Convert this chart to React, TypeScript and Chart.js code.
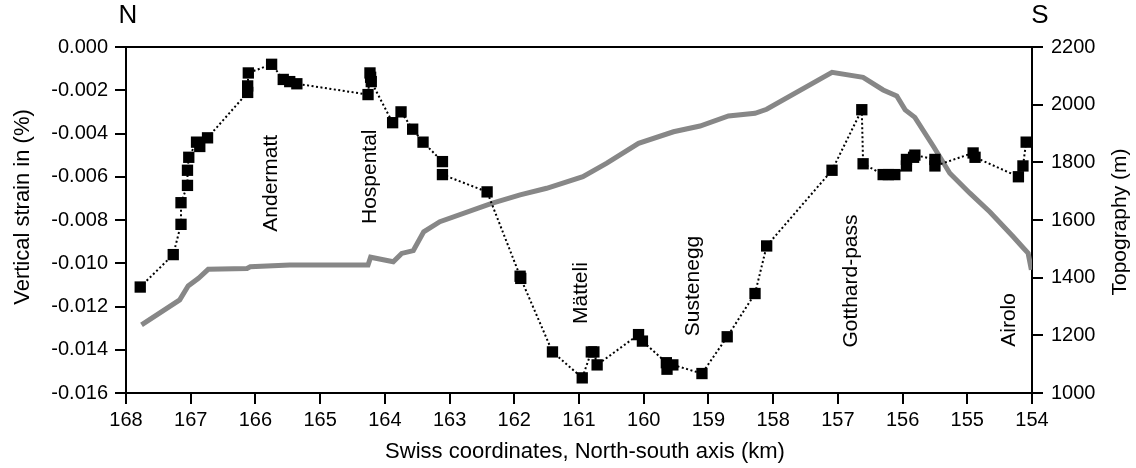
import React, { useEffect, useRef } from "react";
import { Chart, registerables } from "chart.js";

Chart.register(...registerables);

// Strain survey points (km along N-S axis, vertical strain in %)
const strainKm: number[] = [
  167.78, 167.27, 167.15, 167.15, 167.05, 167.05, 167.03, 166.91, 166.86, 166.74,
  166.12, 166.12, 166.11, 165.75, 165.57, 165.47, 165.36, 164.26, 164.23, 164.22,
  164.21, 163.88, 163.75, 163.57, 163.41, 163.11, 163.11, 162.42, 161.91, 161.9,
  161.41, 160.95, 160.81, 160.77, 160.72, 160.08, 160.02, 159.65, 159.64, 159.55,
  159.1, 158.71, 158.28, 158.1, 157.09, 156.63, 156.61, 156.3, 156.22, 156.12,
  155.94, 155.94, 155.83, 155.81, 155.5, 155.5, 154.91, 154.88, 154.21, 154.14,
  154.09,
];
const strainVal: number[] = [
  -0.0111, -0.0096, -0.0082, -0.0072, -0.0064, -0.0057, -0.0051, -0.0044, -0.0046, -0.0042,
  -0.0021, -0.0018, -0.0012, -0.0008, -0.0015, -0.0016, -0.0017, -0.0022, -0.0012, -0.0014,
  -0.0016, -0.0035, -0.003, -0.0038, -0.0044, -0.0053, -0.0059, -0.0067, -0.0106, -0.0107,
  -0.0141, -0.0153, -0.0141, -0.0141, -0.0147, -0.0133, -0.0136, -0.0146, -0.0149, -0.0147,
  -0.0151, -0.0134, -0.0114, -0.0092, -0.0057, -0.0029, -0.0054, -0.0059, -0.0059, -0.0059,
  -0.0055, -0.0052, -0.0051, -0.005, -0.0052, -0.0055, -0.0049, -0.0051, -0.006, -0.0055,
  -0.0044,
];

// Topography profile (km, metres)
const topoKm: number[] = [
  167.76, 167.17, 167.04, 166.88, 166.73, 166.13, 166.08, 165.47, 164.26, 164.22,
  163.87, 163.74, 163.56, 163.4, 163.15, 162.35, 161.91, 161.5, 160.94, 160.57,
  160.08, 159.54, 159.13, 158.69, 158.28, 158.1, 157.09, 156.61, 156.3, 156.09,
  155.96, 155.81, 155.52, 155.27, 154.96, 154.65, 154.29, 154.13, 154.06, 154.01,
];
const topoVal: number[] = [
  1236, 1323, 1371, 1398, 1429, 1432, 1438, 1444, 1444, 1471,
  1455, 1484, 1494, 1559, 1594, 1658, 1687, 1710, 1750, 1797,
  1866, 1906, 1926, 1961, 1970, 1984, 2112, 2095, 2051, 2030,
  1982, 1956, 1854, 1762, 1693, 1628, 1542, 1502, 1485, 1427,
];

// Place names along the profile (km, strain level of label centre)
const placeNames: string[] = ["Andermatt", "Hospental", "Mätteli", "Sustenegg", "Gotthard-pass", "Airolo"];
const placeKm: number[] = [165.76, 164.23, 160.97, 159.24, 156.8, 154.35];
const placeLevel: number[] = [-0.0063, -0.006, -0.01138, -0.01105, -0.01082, -0.01262];

const xTitle = "Swiss coordinates, North-south axis (km)";
const yTitle = "Vertical strain in (%)";
const y2Title = "Topography (m)";

const FONT = "'Liberation Sans', Arial, Helvetica, sans-serif";

export default function App() {
  const ref = useRef<HTMLCanvasElement | null>(null);

  useEffect(() => {
    if (!ref.current) return;
    Chart.defaults.font.family = FONT;
    Chart.defaults.color = "#000";

    const overlay = {
      id: "overlay",
      afterDraw(chart: any) {
        const { ctx, chartArea, scales } = chart;
        ctx.save();
        // top frame line
        ctx.strokeStyle = "#000";
        ctx.lineWidth = 2;
        ctx.beginPath();
        ctx.moveTo(chartArea.left - 1, chartArea.top);
        ctx.lineTo(chartArea.right + 1, chartArea.top);
        ctx.stroke();

        ctx.fillStyle = "#000";
        ctx.textAlign = "center";
        ctx.textBaseline = "middle";

        // place names, rotated
        ctx.font = `21px ${FONT}`;
        placeNames.forEach((name, i) => {
          const px = scales.x.getPixelForValue(placeKm[i]);
          const py = scales.y.getPixelForValue(placeLevel[i]);
          ctx.save();
          ctx.translate(px, py);
          ctx.rotate(-Math.PI / 2);
          ctx.fillText(name, 0, 0);
          ctx.restore();
        });

        // axis titles
        ctx.font = `22px ${FONT}`;
        ctx.fillText(xTitle, 585, 452);

        ctx.save();
        ctx.translate(23, 207);
        ctx.rotate(-Math.PI / 2);
        ctx.fillText(yTitle, 0, 0);
        ctx.restore();

        ctx.font = `21px ${FONT}`;
        ctx.save();
        ctx.translate(1120, 222);
        ctx.rotate(-Math.PI / 2);
        ctx.fillText(y2Title, 0, 0);
        ctx.restore();

        // N / S markers
        ctx.font = `26px ${FONT}`;
        ctx.fillText("N", chartArea.left + 2, 16);
        ctx.fillText("S", chartArea.right + 8, 16);
        ctx.restore();
      },
    };

    const chart = new Chart(ref.current, {
      type: "line",
      data: {
        datasets: [
          {
            label: "Topography",
            data: topoKm.map((x, i) => ({ x, y: topoVal[i] })),
            yAxisID: "y2",
            borderColor: "#878787",
            borderWidth: 5,
            pointRadius: 0,
            tension: 0,
            order: 2,
          },
          {
            label: "Vertical strain",
            data: strainKm.map((x, i) => ({ x, y: strainVal[i] })),
            yAxisID: "y",
            borderColor: "#000",
            borderWidth: 2,
            borderDash: [2, 2.5],
            pointStyle: "rect",
            pointRadius: 8,
            pointBackgroundColor: "#000",
            pointBorderColor: "#000",
            pointBorderWidth: 0,
            tension: 0,
            order: 1,
          },
        ],
      },
      options: {
        responsive: false,
        animation: false,
        devicePixelRatio: 1,
        layout: { padding: { top: 47, left: 0, right: 0, bottom: 0 } },
        plugins: { legend: { display: false }, tooltip: { enabled: false } },
        scales: {
          x: {
            type: "linear",
            reverse: true,
            min: 154,
            max: 168,
            ticks: { stepSize: 1, font: { size: 20 }, padding: 4, color: "#000" },
            grid: { drawOnChartArea: false, tickLength: 11, lineWidth: 2, color: "#000" },
            border: { color: "#000", width: 2 },
            title: { display: false },
            afterFit: (s: any) => { s.height = 75; },
          },
          y: {
            type: "linear",
            position: "left",
            min: -0.016,
            max: 0,
            ticks: {
              stepSize: 0.002,
              font: { size: 20 },
              padding: 7,
              color: "#000",
              callback: (v: any) => Number(v).toFixed(3),
            },
            grid: { drawOnChartArea: false, tickLength: 11, lineWidth: 2, color: "#000" },
            border: { color: "#000", width: 2 },
            title: { display: false },
            afterFit: (s: any) => { s.width = 126; },
          },
          y2: {
            type: "linear",
            position: "right",
            min: 1000,
            max: 2200,
            ticks: {
              stepSize: 200,
              font: { size: 20 },
              padding: 8,
              color: "#000",
              callback: (v: any) => String(Math.round(Number(v))),
            },
            grid: { drawOnChartArea: false, tickLength: 11, lineWidth: 2, color: "#000" },
            border: { color: "#000", width: 2 },
            afterFit: (s: any) => { s.width = 104; },
          },
        },
      },
      plugins: [overlay],
    });

    return () => chart.destroy();
  }, []);

  return (
    <div style={{ position: "absolute", left: 0, top: 0, width: 1136, height: 468, background: "#fff" }}>
      <canvas ref={ref} width={1136} height={468} style={{ display: "block" }} />
    </div>
  );
}
